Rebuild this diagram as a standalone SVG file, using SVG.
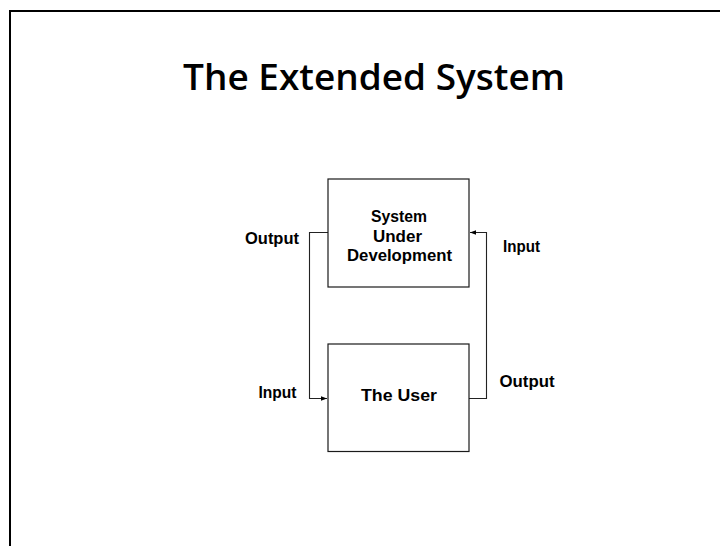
<svg xmlns="http://www.w3.org/2000/svg" width="720" height="546" viewBox="0 0 720 546">
  <style>
    .box { fill: #ffffff; stroke: #1a1a1a; stroke-width: 1.2; }
    .lbl { font-family: "Liberation Sans", Arial, sans-serif; font-weight: bold; font-size: 16.5px; fill: #000; }
    .wire { fill: none; stroke: #222; stroke-width: 1.1; }
    .title { font-family: "Open Sans", "Noto Sans", sans-serif; font-weight: 600; font-size: 36.5px; fill: #000; }
  </style>
  <defs>
    <marker id="arrow" viewBox="0 0 6 6" refX="6" refY="3" markerWidth="6" markerHeight="6" markerUnits="userSpaceOnUse" orient="auto">
      <path d="M0,0.8 L6,3 L0,5.2 Z" fill="#000"/>
    </marker>
  </defs>

  <rect x="0" y="0" width="720" height="546" fill="#ffffff"/>
  <!-- slide frame -->
  <path d="M10,546 V11 H722" fill="none" stroke="#000" stroke-width="2"/>

  <text class="title" x="183" y="90" textLength="382" lengthAdjust="spacingAndGlyphs">The Extended System</text>

  <g id="connectors">
    <path class="wire" d="M328,232.5 H309.5 V398.5 H327" marker-end="url(#arrow)"/>
    <path class="wire" d="M469,398.5 H486.5 V232.5 H470" marker-end="url(#arrow)"/>
    <text class="lbl" x="245" y="244" textLength="54" lengthAdjust="spacingAndGlyphs">Output</text>
    <text class="lbl" x="503" y="251.5" textLength="37" lengthAdjust="spacingAndGlyphs">Input</text>
    <text class="lbl" x="258.5" y="398" textLength="38" lengthAdjust="spacingAndGlyphs">Input</text>
    <text class="lbl" x="499.5" y="387" textLength="55" lengthAdjust="spacingAndGlyphs">Output</text>
  </g>

  <g id="system-under-development">
    <rect class="box" x="328" y="179" width="141" height="108"/>
    <text class="lbl" x="371" y="222" textLength="56" lengthAdjust="spacingAndGlyphs">System</text>
    <text class="lbl" x="373" y="241.5" textLength="49" lengthAdjust="spacingAndGlyphs">Under</text>
    <text class="lbl" x="347" y="260.5" textLength="105" lengthAdjust="spacingAndGlyphs">Development</text>
  </g>

  <g id="the-user">
    <rect class="box" x="328" y="344" width="141" height="107.5"/>
    <text class="lbl" x="361" y="401" textLength="76" lengthAdjust="spacingAndGlyphs">The User</text>
  </g>
</svg>
